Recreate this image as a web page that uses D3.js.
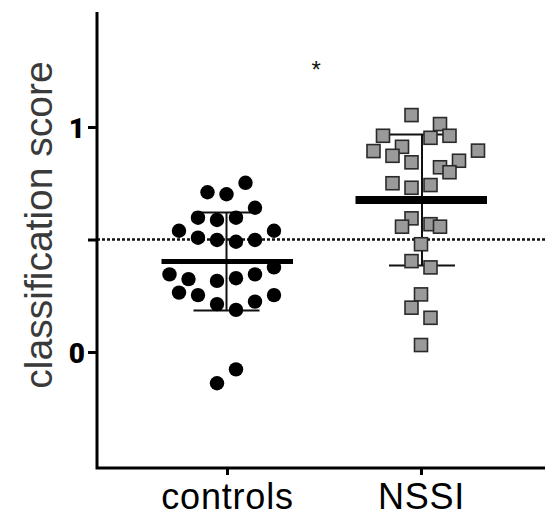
<!DOCTYPE html>
<html>
<head>
<meta charset="utf-8">
<script src="https://cdn.jsdelivr.net/npm/d3@7"></script>
<style>
	body { margin: 0; background: #fff; }
	svg text { font-family: "Liberation Sans", Arial, Helvetica, sans-serif; }
	svg .y-tick text { font-family: Roboto, "Liberation Sans", Arial, sans-serif; }
</style>
</head>
<body>
<svg id="chart" width="545" height="516"></svg>
<script>
// data
let groups = ["controls", "NSSI"];

let controlsScores = [0.752, 0.710, 0.701, 0.641, 0.597, 0.587, 0.597, 0.539, 0.539,
	0.508, 0.498, 0.490, 0.498, 0.376, 0.345, 0.324, 0.316, 0.328, 0.345,
	0.264, 0.253, 0.253, 0.213, 0.224, 0.187, -0.077, -0.139];
// column-scatter slot of each point (left/right of the group centre)
let controlsSlots = [2, -2, 0, 3, -3, -1, 1, -5, 5,
	-3, -1, 1, 3, 5, -6, -4, -1, 1, 3,
	-5, -3, 5, -1, 3, 1, 1, -1];

let nssiScores = [1.053, 1.013, 0.961, 0.952, 0.961, 0.893, 0.912, 0.872, 0.895,
	0.843, 0.821, 0.850, 0.799, 0.750, 0.730, 0.742, 0.594, 0.557, 0.568,
	0.557, 0.479, 0.404, 0.376, 0.256, 0.197, 0.152, 0.031];
let nssiSlots = [-1, 2, -4, 1, 3, -5, -2, -3, 6,
	-1, 2, 4, 3, -3, -1, 1, -1, -2, 1,
	2, 0, -1, 1, 0, -1, 1, 0];

let groupMeans = [0.402, 0.676];
let groupSDs = [0.218, 0.291];

let yTicks = [0, 0.5, 1];
let yLabeled = [0, 1];
let threshold = 0.5;
let sigMark = "*";
let sigScore = 1.28; // score where the star sits, between the groups

let width = 545;
let axisX = 97, axisY = 468;
let slotStep = 9.5;

let svg = d3.select("#chart");

let x = d3.scalePoint()
	.domain(groups)
	.range([227, 421]);

let y = d3.scaleLinear()
	.domain([-0.5, 1.5])
	.range([464.5, 14.5]);

// threshold line
svg.append("line")
	.attr("x1", axisX).attr("x2", width)
	.attr("y1", y(threshold)).attr("y2", y(threshold))
	.attr("stroke", "#111")
	.attr("stroke-width", 2.5)
	.attr("stroke-dasharray", "3,2");

// SD error bars (under the points)
let barGroups = svg.append("g").attr("class", "sd");
groups.forEach(function(g, i) {
	let cx = x(g) + (i == 0 ? -0.5 : 1);
	let hi = y(groupMeans[i] + groupSDs[i]);
	let lo = y(groupMeans[i] - groupSDs[i]);
	barGroups.append("line")
		.attr("x1", cx).attr("x2", cx).attr("y1", hi).attr("y2", lo)
		.attr("stroke", "#111").attr("stroke-width", 2);
	[hi, lo].forEach(function(yy) {
		barGroups.append("line")
			.attr("x1", cx - 33).attr("x2", cx + 33).attr("y1", yy).attr("y2", yy)
			.attr("stroke", "#111").attr("stroke-width", 2);
	});
});

// controls: black dots
svg.append("g")
	.selectAll("circle")
	.data(controlsScores)
	.enter().append("circle")
	.attr("cx", function(d, i) { return x("controls") + controlsSlots[i]*slotStep - 0.5; })
	.attr("cy", function(d) { return y(d); })
	.attr("r", 7.2)
	.attr("fill", "#000");

// NSSI: grey squares
let sq = 13;
svg.append("g")
	.selectAll("rect")
	.data(nssiScores)
	.enter().append("rect")
	.attr("x", function(d, i) { return x("NSSI") + nssiSlots[i]*slotStep - sq/2; })
	.attr("y", function(d) { return y(d) - sq/2; })
	.attr("width", sq)
	.attr("height", sq)
	.attr("fill", "#9a9a9a")
	.attr("stroke", "#2a2a2a")
	.attr("stroke-width", 1.6);

// mean lines
svg.append("g")
	.selectAll("line")
	.data(groupMeans)
	.enter().append("line")
	.attr("x1", function(d, i) { return x(groups[i]) - 65.5; })
	.attr("x2", function(d, i) { return x(groups[i]) + 66; })
	.attr("y1", function(d) { return y(d); })
	.attr("y2", function(d) { return y(d); })
	.attr("stroke", "#000")
	.attr("stroke-width", function(d, i) { return i == 0 ? 5 : 8; });

// Axes
let yAxis = svg.append("g")
	.attr("class", "y-tick")
	.attr("transform", "translate(" + axisX + ",0)")
	.call(d3.axisLeft(y)
		.tickValues(yTicks)
		.tickSize(9)
		.tickPadding(3)
		.tickFormat(function(d) { return yLabeled.indexOf(d) >= 0 ? d : ""; }));
yAxis.select(".domain").remove();
yAxis.selectAll(".tick line").attr("stroke", "#000").attr("stroke-width", 3);
yAxis.selectAll(".tick text")
	.attr("fill", "#000")
	.attr("dy", "0.36em")
	.style("font-size", "28px")
	.style("font-weight", "900");

let xAxis = svg.append("g")
	.attr("transform", "translate(0," + axisY + ")")
	.call(d3.axisBottom(x).tickSize(7).tickPadding(8));
xAxis.select(".domain").remove();
xAxis.selectAll(".tick line").attr("stroke", "#000").attr("stroke-width", 3);
xAxis.selectAll(".tick text")
	.attr("fill", "#000")
	.style("font-size", "36px")
	.style("letter-spacing", "0.8px");

// axis lines
svg.append("path")
	.attr("d", "M" + axisX + ",12V" + axisY + "H" + width)
	.attr("fill", "none")
	.attr("stroke", "#000")
	.attr("stroke-width", 3);

// y-axis label
svg.append("text")
	.attr("transform", "rotate(-90)")
	.attr("x", -225)
	.attr("y", 52)
	.style("text-anchor", "middle")
	.style("font-size", "39px")
	.attr("fill", "#3a3a3a")
	.text("classification score");

// significance star
svg.append("text")
	.attr("x", x(groups[0]) + 0.46*(x(groups[1]) - x(groups[0])))
	.attr("y", y(sigScore) + 14)
	.style("text-anchor", "middle")
	.style("font-size", "24px")
	.attr("fill", "#111")
	.text(sigMark);
</script>
</body>
</html>
